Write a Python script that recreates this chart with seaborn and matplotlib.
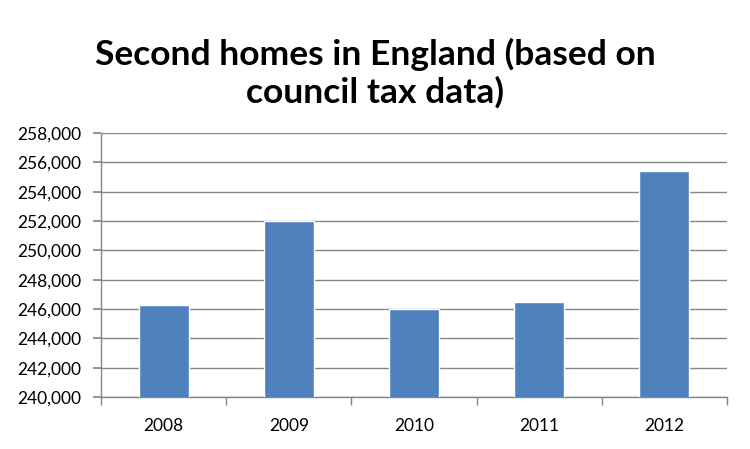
import pandas as pd
import matplotlib.pyplot as plt
import seaborn as sns
from matplotlib.ticker import FuncFormatter, FixedLocator

years = ['2008', '2009', '2010', '2011', '2012']
second_homes = [246300, 252000, 246020, 246500, 255380]

sns.set_theme(style="white")
plt.rcParams['font.family'] = ['Lato', 'DejaVu Sans']
plt.rcParams['text.color'] = '#000000'

df = pd.DataFrame({'year': years, 'homes': second_homes})

fig = plt.figure(figsize=(7.5, 4.49), dpi=100)
ax = fig.add_axes([0.1347, 0.1158, 0.8346, 0.588])

sns.barplot(data=df, x='year', y='homes', color='#4F81BD', width=0.4,
            saturation=1, ax=ax, zorder=3)

ax.set_ylim(240000, 258000)
ax.set_yticks(range(240000, 258001, 2000))
ax.yaxis.set_major_formatter(FuncFormatter(lambda v, p: f'{int(v):,}'))
ax.set_xlim(-0.5, 4.5)
ax.grid(axis='y', color='#868686', linewidth=1, zorder=0)
ax.set_xlabel('')
ax.set_ylabel('')

# category boundary ticks on the x axis
ax.xaxis.set_minor_locator(FixedLocator([-0.5, 0.5, 1.5, 2.5, 3.5, 4.5]))
ax.tick_params(axis='x', which='major', length=0, labelsize=12.5, pad=15, labelcolor='#000000')
ax.tick_params(axis='x', which='minor', length=6, color='#868686', direction='out', bottom=True)
ax.tick_params(axis='y', which='major', length=6, color='#868686', direction='out', left=True,
               labelsize=12.5, pad=8, labelcolor='#000000')

for s in ['top', 'right']:
    ax.spines[s].set_visible(False)
for s in ['left', 'bottom']:
    ax.spines[s].set_color('#868686')
    ax.spines[s].set_linewidth(1)

fig.text(0.5, 0.8552, 'Second homes in England (based on',
         ha='center', va='baseline', fontsize=25.5, fontweight='bold', color='#000000')
fig.text(0.5, 0.7706, 'council tax data)',
         ha='center', va='baseline', fontsize=25.5, fontweight='bold', color='#000000')

fig.savefig('out.png', dpi=100)
